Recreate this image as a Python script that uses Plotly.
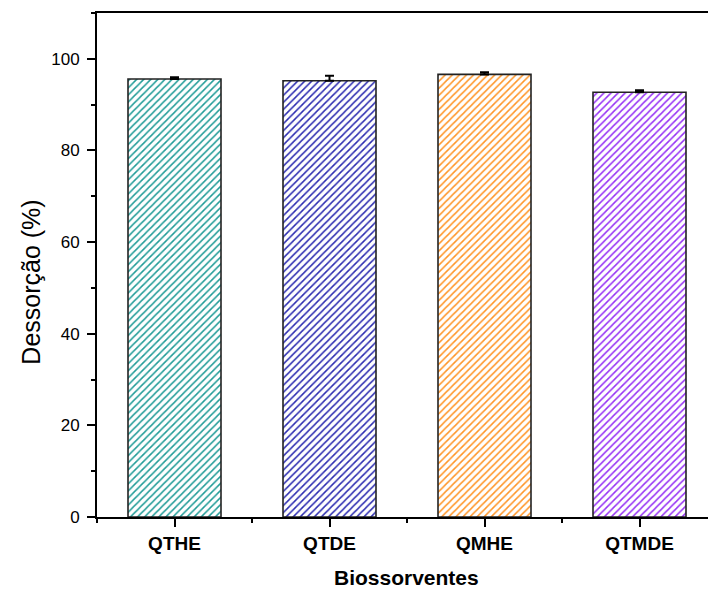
import plotly.graph_objects as go

categories = ["QTHE", "QTDE", "QMHE", "QTMDE"]
values = [95.6, 95.2, 96.6, 92.7]
errors = [0.35, 1.1, 0.45, 0.45]
colors = ["#1f9b97", "#2a2ab0", "#ff9424", "#9530f5"]
positions = [1, 2, 3, 4]

fig = go.Figure()
fig.add_trace(go.Bar(
    x=positions, y=values, width=0.6,
    marker=dict(
        color="white",
        line=dict(color="#222222", width=1.6),
        pattern=dict(shape="/", fgcolor=colors, bgcolor="white", fgopacity=1,
                     size=5, solidity=0.3),
    ),
    error_y=dict(type="data", array=errors, arrayminus=[0]*4, symmetric=False,
                 color="black", thickness=2, width=4.5),
    showlegend=False,
))

font = "Liberation Sans, Arial, sans-serif"
fig.update_layout(
    width=708, height=590,
    margin=dict(l=97, r=0, t=13, b=73),
    plot_bgcolor="white", paper_bgcolor="white",
    font=dict(family=font, color="black"),
    xaxis=dict(
        range=[0.5, 0.5 + 611 / 155], tickmode="array", tickvals=positions, ticktext=categories,
        showline=True, linecolor="black", linewidth=2, mirror=True,
        ticks="outside", ticklen=8, tickwidth=2, tickcolor="black",
        tickfont=dict(family=font, size=19, color="black", weight="bold"),
        minor=dict(tickvals=[0.5, 1.5, 2.5, 3.5, 4.5], ticks="outside", ticklen=4,
                   tickwidth=2, tickcolor="black"),
        showgrid=False, zeroline=False,
    ),
    yaxis=dict(
        range=[0, 110], tickmode="linear", tick0=0, dtick=20,
        showline=True, linecolor="black", linewidth=2,
        ticks="outside", ticklen=8, tickwidth=2, tickcolor="black",
        tickfont=dict(family=font, size=17, color="black"),
        minor=dict(dtick=10, ticks="outside", ticklen=4, tickwidth=2, tickcolor="black"),
        showgrid=False, zeroline=False, ticklabelstandoff=4,
    ),
    annotations=[
        dict(text="Dessorção (%)", xref="paper", yref="paper", x=-0.108, y=0.465,
             showarrow=False, textangle=-90, font=dict(family=font, size=25, color="black"),
             xanchor="center", yanchor="middle"),
        dict(text="<b>Biossorventes</b>", xref="paper", yref="paper", x=0.507, y=-0.12,
             showarrow=False, font=dict(family=font, size=21, color="black"),
             xanchor="center", yanchor="middle"),
    ],
)

fig.write_html("out.html")
